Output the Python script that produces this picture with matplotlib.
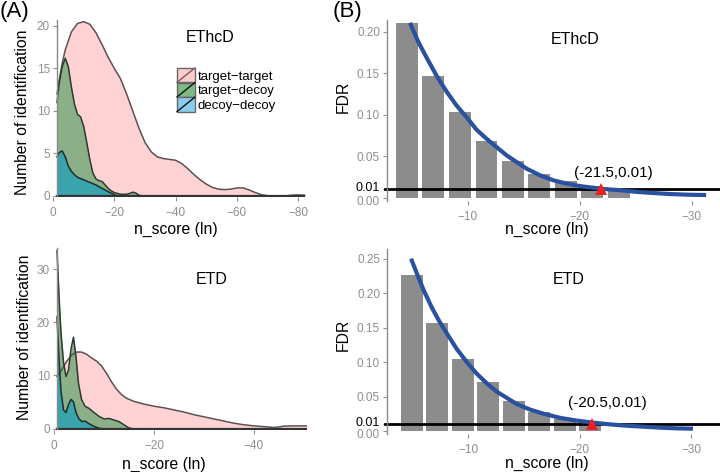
import matplotlib
matplotlib.use("Agg")
import matplotlib.pyplot as plt
import matplotlib.transforms as mtrans
from matplotlib.patches import Patch, Rectangle
from matplotlib.lines import Line2D
from matplotlib.legend_handler import HandlerPatch

plt.rcParams['font.family'] = ['Liberation Sans', 'DejaVu Sans']

# ---- panel A, EThcD densities (x = n_score, y = count) ----
ethcd_tt_x = [-1.3, -2, -3, -4, -6, -8, -10, -12, -14, -16, -18, -20, -22, -24, -26, -28, -30,
              -32, -34, -36, -38, -40, -42, -44, -46, -48, -50, -52, -54, -56, -58, -60, -62,
              -64, -66, -68, -70, -72, -74, -76, -78, -80, -82]
ethcd_tt_y = [12, 13.6, 15.6, 17.2, 19.3, 20.3, 20.5, 20.2, 19.2, 17.8, 16.3, 15.0, 13.8, 12.0,
              10.0, 8.0, 6.3, 5.2, 4.6, 4.4, 4.3, 4.2, 3.8, 3.2, 2.5, 1.9, 1.4, 1.0, 0.8, 0.75,
              0.8, 0.95, 0.95, 0.7, 0.4, 0.15, 0.03, 0.0, 0.0, 0.02, 0.1, 0.12, 0.1]
ethcd_td_x = [-1.3, -2, -3, -4, -5, -6, -7, -8, -9, -10, -11, -12, -13, -14, -15, -16, -17, -18,
              -19, -20, -22, -24, -25, -26, -27, -28, -29]
ethcd_td_y = [11, 13.2, 15.2, 16.2, 15.2, 12.8, 10.8, 9.6, 9.3, 8.2, 6.3, 4.3, 2.7, 2.0, 1.8,
              1.7, 1.3, 0.9, 0.6, 0.4, 0.2, 0.2, 0.3, 0.45, 0.35, 0.1, 0.0]
ethcd_dd_x = [-1.3, -2, -3, -4, -5, -6, -7, -8, -10, -12, -14, -16, -18, -20, -21]
ethcd_dd_y = [4.6, 5.1, 5.3, 4.6, 3.5, 2.9, 2.5, 2.2, 1.9, 1.6, 1.3, 0.9, 0.5, 0.15, 0.0]

# ---- panel A, ETD densities ----
etd_tt_x = [-0.6, -1.5, -2.5, -3.5, -4.5, -5.5, -6.5, -7.5, -8.5, -9.5, -10.5, -11.5, -12.5,
            -13.5, -14.5, -16, -18, -20, -22, -24, -26, -28, -30, -32, -34, -36, -38, -40,
            -42, -44, -45, -46, -48, -50, -50.6]
etd_tt_y = [9.8, 11, 12.6, 13.8, 14.4, 14.4, 14.0, 13.3, 12.7, 11.8, 10.4, 8.8, 7.4, 6.4, 5.7,
            5.1, 4.6, 4.2, 3.9, 3.5, 3.1, 2.6, 2.2, 1.8, 1.4, 1.0, 0.7, 0.5, 0.35, 0.2, 0.3,
            0.45, 0.5, 0.5, 0.5]
etd_td_x = [-0.6, -1.0, -1.4, -1.9, -2.4, -2.9, -3.4, -3.9, -4.4, -4.9, -5.5, -6.2, -7, -8, -9,
            -10, -11, -12, -13, -14, -15, -15.5]
etd_td_y = [33.5, 25, 18, 12.5, 9.8, 11, 15, 17.2, 13.5, 8.5, 5.5, 4.2, 3.8, 3.0, 2.3, 1.8,
            1.9, 1.6, 1.3, 0.7, 0.1, 0.0]
etd_dd_x = [-0.6, -1.0, -1.4, -1.9, -2.4, -2.9, -3.4, -3.9, -4.4, -5, -5.6, -6.2, -7, -8, -9, -9.5]
etd_dd_y = [21.0, 13, 7, 3.5, 3.0, 4.5, 5.5, 5.0, 3.0, 1.8, 1.3, 1.4, 0.9, 0.4, 0.05, 0.0]

# ---- panel B, FDR bars and fitted curves ----
ethcd_bar_x = [-4.52, -6.9, -9.28, -11.65, -14.03, -16.38, -18.77, -21.12, -23.52]
ethcd_bar_y = [0.211, 0.147, 0.103, 0.068, 0.044, 0.029, 0.020, 0.014, 0.008]
ethcd_fit_x = [-4.81, -5.56, -6.30, -7.20, -8.09, -8.99, -9.88, -10.77, -11.67, -12.56, -13.46,
               -14.35, -15.25, -16.44, -17.63, -18.82, -20.01, -21.2, -22.1, -23.6, -25.1,
               -26.6, -28.1, -29.6, -31.3]
ethcd_fit_y = [0.211, 0.188, 0.169, 0.147, 0.128, 0.111, 0.097, 0.082, 0.071, 0.061, 0.051,
               0.043, 0.035, 0.027, 0.021, 0.017, 0.014, 0.012, 0.0105, 0.009, 0.007, 0.0056,
               0.0044, 0.0036, 0.0032]
etd_bar_x = [-4.91, -7.20, -9.51, -11.77, -14.07, -16.36, -18.65, -20.90]
etd_bar_y = [0.226, 0.157, 0.104, 0.071, 0.043, 0.028, 0.018, 0.012]
etd_fit_x = [-4.85, -5.36, -5.96, -6.71, -7.46, -8.2, -8.95, -9.85, -10.75, -11.65, -12.54,
             -13.44, -14.34, -15.54, -16.74, -18.23, -19.73, -21.23, -22.72, -24.22, -25.72,
             -27.2, -28.7, -30.15]
etd_fit_y = [0.25, 0.229, 0.205, 0.179, 0.157, 0.138, 0.119, 0.100, 0.083, 0.069, 0.057,
             0.048, 0.039, 0.031, 0.025, 0.019, 0.015, 0.012, 0.0095, 0.0076, 0.0062, 0.0048,
             0.0038, 0.0033]
cut_x = [-21.9, -21.1]
cut_y = 0.01
cut_labels = ['(-21.5,0.01)', '(-20.5,0.01)']

pink, green, teal = '#FFD3D4', '#8BB087', '#3AA4AC'
key_cols = ['#FFCCCC', '#7DBA84', '#8ACDEE']
edge_cols = ['#5a5252', '#2c3a2e', '#1d2d31']
tick_grey = '#8f8f8f'
W, H = 720.0, 472.0

fig = plt.figure(figsize=(7.2, 4.72), dpi=100)


def px_axes(l, t, r, b):
    return fig.add_axes([l / W, 1 - b / H, (r - l) / W, (b - t) / H])


def ftext(x, y, s, **kw):
    fig.text(x / W, 1 - y / H, s, **kw)


def style(ax):
    for s in ['top', 'right', 'bottom']:
        ax.spines[s].set_visible(False)
    ax.spines['left'].set_color('#8a8a8a')
    ax.spines['left'].set_linewidth(1.0)
    ax.tick_params(axis='both', colors=tick_grey, labelcolor=tick_grey, labelsize=8.5,
                   length=3, width=0.8, pad=2)
    ax.tick_params(axis='x', pad=4)


def density(ax, series, spine_x, xlim, ylim, yticks):
    for (x, y), c in zip(series, [pink, green, teal]):
        ax.fill_between(x, 0, y, color=c, lw=0)
    for (x, y), c in zip(series, edge_cols):
        ax.plot(x, y, color=c, lw=1.1)
    ax.plot([series[0][0][0], series[0][0][-1]], [0, 0], color='#333333', lw=1.6)
    ax.set_xlim(*xlim)
    ax.set_ylim(*ylim)
    ax.set_yticks(yticks)
    style(ax)
    ax.spines['left'].set_position(('data', spine_x))
    ax.spines['left'].set_bounds(0, ylim[1])


# (A) top
a1 = px_axes(52, 20, 306, 197)
density(a1, [(ethcd_tt_x, ethcd_tt_y), (ethcd_td_x, ethcd_td_y), (ethcd_dd_x, ethcd_dd_y)],
        -1.3, (0.33, -82.5), (-0.12, 20.7), [0, 5, 10, 15, 20])
a1.set_xticks([0, -20, -40, -60, -80])

# (A) bottom
a2 = px_axes(52, 248, 307, 430)
density(a2, [(etd_tt_x, etd_tt_y), (etd_td_x, etd_td_y), (etd_dd_x, etd_dd_y)],
        -0.6, (0.4, -50.6), (-0.28, 34.0), [0, 10, 20, 30])
a2.set_xticks([0, -20, -40])


class SlashKey(HandlerPatch):
    def create_artists(self, legend, orig, xd, yd, w, h, fs, trans):
        r = Rectangle((-xd, -yd), w, h, facecolor=orig.get_facecolor(),
                      edgecolor='#666666', lw=1.0, transform=trans)
        ln = Line2D([-xd, -xd + w], [-yd, -yd + h], color=orig.get_edgecolor(),
                    lw=1.0, transform=trans)
        return [r, ln]


handles = [Patch(facecolor=c, edgecolor=e) for c, e in
           zip(key_cols, ['#7a5c5c', '#111111', '#111111'])]
a1.legend(handles, ['target\u2212target', 'target\u2212decoy', 'decoy\u2212decoy'],
          handler_map={Patch: SlashKey()}, loc='upper left',
          bbox_to_anchor=(177 / W, 1 - 68 / H), bbox_transform=fig.transFigure,
          frameon=False, fontsize=9.5, handlelength=1.35, handleheight=1.3,
          handletextpad=0.2, labelspacing=0.0, borderpad=0, borderaxespad=0)


def fdr(ax, bx, by, fx, fy, cx, lab, lab_xy, xlim, ylim, yticks):
    ax.bar(bx, by, width=1.95, color='#8c8c8c', zorder=1)
    ax.axhline(cut_y, color='black', lw=2, zorder=2, xmin=-0.006, xmax=1.1, clip_on=False)
    ax.plot(fx, fy, color='#2a50a0', lw=3, zorder=3, solid_capstyle='butt')
    ax.plot([cx], [cut_y], marker='^', color='#ee2020', markersize=8, zorder=4,
            markeredgewidth=0)
    ax.set_xlim(*xlim)
    ax.set_ylim(*ylim)
    ax.set_xticks([-10, -20, -30])
    ax.set_yticks(yticks)
    ax.set_yticklabels(['%.2f' % v for v in yticks])
    style(ax)
    ax.spines['left'].set_bounds(ylim[0], ylim[1])
    for t, v in zip(ax.get_yticklabels(), yticks):
        if abs(v - 0.01) < 1e-9:
            t.set_color('black')
            t.set_fontsize(9)
            t.set_transform(t.get_transform() + mtrans.ScaledTranslation(0, 2 / 72, fig.dpi_scale_trans))
        elif v == 0:
            t.set_transform(t.get_transform() + mtrans.ScaledTranslation(0, -2 / 72, fig.dpi_scale_trans))
    ftext(lab_xy[0], lab_xy[1], lab, ha='center', va='center', fontsize=11)


b1 = px_axes(387, 20, 714, 201)
fdr(b1, ethcd_bar_x, ethcd_bar_y, ethcd_fit_x, ethcd_fit_y, cut_x[0], cut_labels[0],
    (613, 173), (-2.76, -32.0), (-0.004, 0.2144), [0.0, 0.01, 0.05, 0.10, 0.15, 0.20])

b2 = px_axes(387, 249, 718, 434)
fdr(b2, etd_bar_x, etd_bar_y, etd_fit_x, etd_fit_y, cut_x[1], cut_labels[1],
    (607, 403), (-2.69, -32.4), (-0.0044, 0.264), [0.0, 0.01, 0.05, 0.10, 0.15, 0.20, 0.25])

# titles, axis labels, panel tags
ftext(210, 38, 'EThcD', ha='center', va='center', fontsize=11.5)
ftext(575, 39, 'EThcD', ha='center', va='center', fontsize=11.5)
ftext(212, 279, 'ETD', ha='center', va='center', fontsize=11.5)
ftext(569, 279, 'ETD', ha='center', va='center', fontsize=11.5)
for x, y in [(176, 229), (164, 464), (547, 229), (547, 463)]:
    ftext(x, y, 'n_score (ln)', ha='center', va='center', fontsize=11.3)
ftext(23, 112, 'Number of identification', ha='center', va='center', rotation=90, fontsize=11.3)
ftext(25, 337, 'Number of identification', ha='center', va='center', rotation=90, fontsize=11.3)
ftext(343, 97, 'FDR', ha='center', va='center', rotation=90, fontsize=11.3)
ftext(343, 335, 'FDR', ha='center', va='center', rotation=90, fontsize=11.3)
ftext(0, 1, '(A)', ha='left', va='top', fontsize=16)
ftext(333, 1, '(B)', ha='left', va='top', fontsize=16)

fig.savefig('out.png', dpi=100)
